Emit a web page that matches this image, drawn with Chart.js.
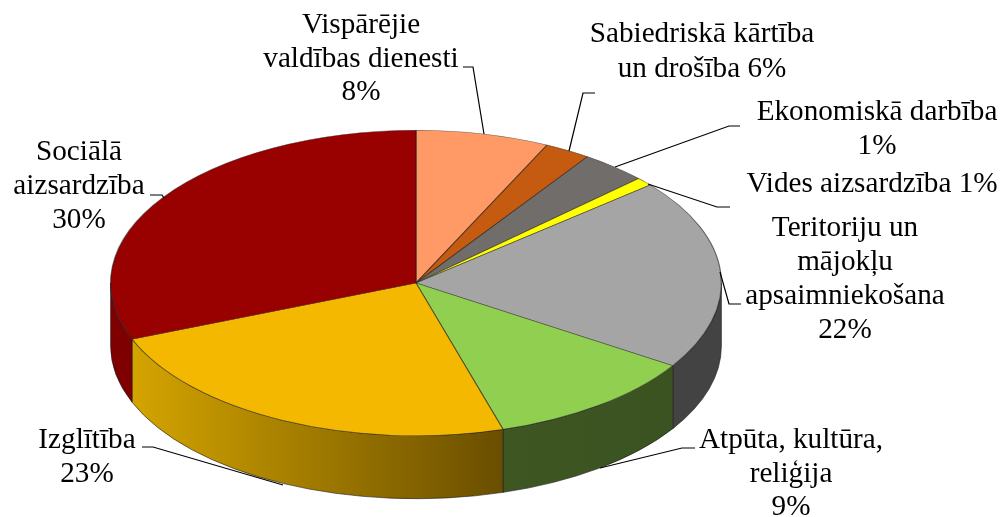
<!DOCTYPE html>
<html><head><meta charset="utf-8">
<style>html,body{margin:0;padding:0;background:#fff;overflow:hidden}#w{width:1008px;height:517px}</style>
<script src="https://cdn.jsdelivr.net/npm/chart.js@4"></script></head>
<body><div id="w"><canvas id="c" width="1008" height="517"></canvas></div>
<script>
const categories = ["Vispārējie valdības dienesti","Sabiedriskā kārtība un drošība","Ekonomiskā darbība","Vides aizsardzība","Teritoriju un mājokļu apsaimniekošana","Atpūta, kultūra, reliģija","Izglītība","Sociālā aizsardzība"];
const sliceValues = [7.05, 2.45, 3.5, 0.9, 20.2, 11.3, 23.6, 31];
const printedPercents = ["8%","6%","1%","1%","22%","9%","23%","30%"];
const topColors = ["#FF9966","#C55A11","#716D6B","#FFFF00","#A5A5A5","#90CF50","#F4B800","#990000"];
const sideColorsStart = ["#BF7349","#8F410C","#504E4D","#A6A600","#434343","#3D5622","#D4A400","#7F0000"];
const sideColorsEnd   = ["#BF7349","#8F410C","#504E4D","#A6A600","#434343","#3B5320","#6A4E00","#7F0000"];

const labelBlocks = [
 {lines:["Vispārējie","valdības dienesti","8%"], x:361, y:[25,59,92]},
 {lines:["Sabiedriskā kārtība","un drošība 6%"], x:702, y:[34,69]},
 {lines:["Ekonomiskā darbība","1%"], x:877, y:[112,146]},
 {lines:["Vides aizsardzība 1%"], x:872, y:[184]},
 {lines:["Teritoriju un","mājokļu","apsaimniekošana","22%"], x:845, y:[228,262,296,330]},
 {lines:["Atpūta, kultūra,","reliģija","9%"], x:791, y:[440,474,507]},
 {lines:["Izglītība","23%"], x:87, y:[440,474]},
 {lines:["Sociālā","aizsardzība","30%"], x:79, y:[152,186,220]}
];
const leaderPaths = [
 [[463,67],[473,67],[484,134]],
 [[595,93],[583,93],[569,151]],
 [[740,126],[729,126],[615,167]],
 [[730,207],[717,207],[648,184]],
 [[741,304],[729,304],[720,272]],
 [[695,448],[682,448],[600,468]],
 [[142,447],[153,447],[283,485]],
 [[150,195],[162,195],[164,198]]
];
const depth = 63, stretchX = 2;

const pie3d = {
 id:'pie3d',
 beforeDatasetsDraw(chart){
  const ctx = chart.ctx, arcs = chart.getDatasetMeta(0).data;
  const cx = arcs[0].x, cy = arcs[0].y, r = arcs[0].outerRadius, rx = r*stretchX;
  arcs.forEach((arc,i)=>{
   const a = Math.max(arc.startAngle,0), b = Math.min(arc.endAngle,Math.PI);
   if (b <= a) return;
   const xa = cx+rx*Math.cos(a), xb = cx+rx*Math.cos(b);
   const g = ctx.createLinearGradient(Math.min(xa,xb),0,Math.max(xa,xb),0);
   g.addColorStop(0, sideColorsStart[i]);
   g.addColorStop(1, sideColorsEnd[i]);
   ctx.save();
   ctx.beginPath();
   ctx.ellipse(cx,cy,rx,r,0,a,b);
   ctx.ellipse(cx,cy+depth,rx,r,0,b,a,true);
   ctx.closePath();
   ctx.fillStyle = g;
   ctx.strokeStyle = 'rgba(25,25,25,0.75)';
   ctx.lineWidth = 0.8;
   ctx.fill(); ctx.stroke();
   ctx.restore();
  });
  ctx.save();
  ctx.translate(cx,cy); ctx.scale(stretchX,1); ctx.translate(-cx,-cy);
 },
 afterDatasetsDraw(chart){
  const ctx = chart.ctx;
  ctx.restore();
  ctx.save();
  ctx.strokeStyle='#000'; ctx.lineWidth=1.2;
  leaderPaths.forEach(p=>{
   ctx.beginPath();
   p.forEach((q,i)=> i?ctx.lineTo(q[0],q[1]):ctx.moveTo(q[0],q[1]));
   ctx.stroke();
  });
  ctx.fillStyle='#000';
  ctx.font='29.2px "Liberation Serif"';
  ctx.textAlign='center'; ctx.textBaseline='middle';
  labelBlocks.forEach(b=> b.lines.forEach((t,i)=> ctx.fillText(t,b.x,b.y[i])));
  ctx.restore();
 }
};

new Chart(document.getElementById('c'),{
 type:'pie',
 data:{labels:categories,datasets:[{data:sliceValues,backgroundColor:topColors,borderColor:'rgba(30,30,30,0.6)',borderWidth:0.6}]},
 options:{responsive:false,animation:false,
  layout:{padding:{top:130,bottom:81,left:0,right:176}},
  plugins:{legend:{display:false},tooltip:{enabled:false}}},
 plugins:[pie3d]
});
</script></body></html>
